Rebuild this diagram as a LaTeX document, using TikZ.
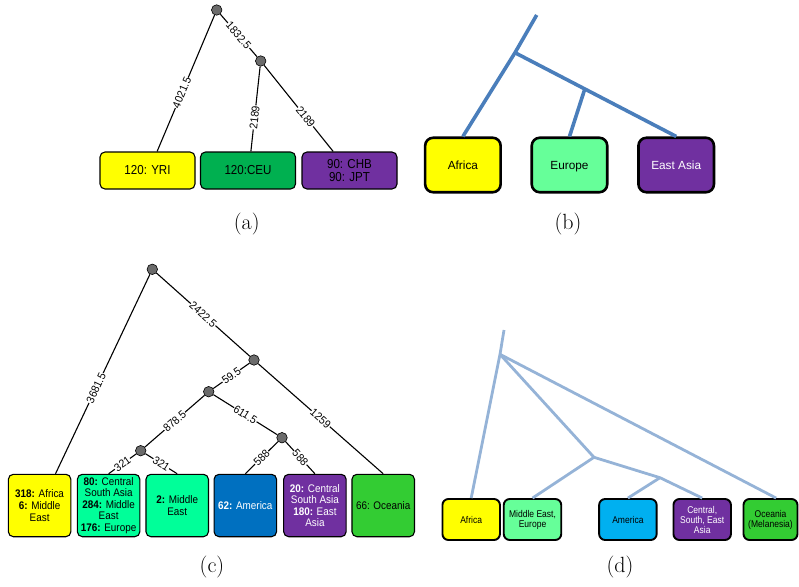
\documentclass[tikz,border=0pt]{standalone}
\usepackage{fontspec}
\newfontfamily\fontlbl[FakeStretch=0.93]{Liberation Sans}
\newfontfamily\fontA[FakeStretch=0.89]{Liberation Sans}
\newfontfamily\fontC[FakeStretch=0.9]{Liberation Sans}
\newfontfamily\fontD[FakeStretch=0.87]{Liberation Sans}
\newfontfamily\arialplain{Liberation Sans}
\usetikzlibrary{calc}

\definecolor{cyellow}{HTML}{FFFF00}
\definecolor{cgreenA}{HTML}{00B050}
\definecolor{cpurple}{HTML}{7030A0}
\definecolor{cmint}{HTML}{66FF99}
\definecolor{cspring}{HTML}{00FF99}
\definecolor{cblue}{HTML}{0070C0}
\definecolor{csky}{HTML}{00B0F0}
\definecolor{cleaf}{HTML}{33CC33}
\definecolor{treeB}{HTML}{4A7EBB}
\definecolor{treeD}{HTML}{95B3D7}
\definecolor{jointgray}{HTML}{6B6B6B}

\begin{document}
\begin{tikzpicture}[x=1pt,y=-1pt,
  joint/.style={circle, draw=black, line width=0.6pt, fill=jointgray, minimum size=10.5pt, inner sep=0pt},
  edge/.style={draw=black, line width=1.1pt},
  lbl/.style={sloped, fill=white, inner sep=0.5pt, font=\fontlbl\fontsize{11.2}{12}\selectfont},
  leafA/.style={draw=black, line width=1.1pt, rounded corners=5pt, minimum width=95pt, minimum height=37pt,
    inner sep=1pt, align=center, font=\fontA\fontsize{13}{13.5}\selectfont},
  leafB/.style={draw=black, line width=2.6pt, rounded corners=8pt, minimum width=75.5pt, minimum height=54.5pt,
    inner sep=1pt, text height=8.6pt, text depth=0pt, align=center, font=\arialplain\fontsize{11.8}{14}\selectfont},
  leafC/.style={draw=black, line width=1.1pt, rounded corners=5pt, minimum width=62.5pt, minimum height=62.4pt,
    inner sep=1pt, align=center, font=\fontC\fontsize{11}{11.6}\selectfont},
  leafD/.style={draw=black, line width=1.9pt, rounded corners=6pt, minimum width=57.5pt, minimum height=41pt,
    inner sep=1pt, align=center, font=\fontD\fontsize{9.8}{10}\selectfont},
  branchB/.style={draw=treeB, line width=3.6pt},
  branchD/.style={draw=treeD, line width=2.8pt},
  caption/.style={font=\fontsize{22}{26}\selectfont, inner sep=0pt}
]
\useasboundingbox (0,0) rectangle (799,586);

% ---------- (a) three populations, branch lengths ----------
\node[joint] (ra) at (216.7,10) {};
\node[joint] (rb) at (260.7,61) {};
\node[leafA, fill=cyellow] (yri) at (147.5,170.5) {120: YRI};
\node[leafA, fill=cgreenA] (ceu) at (248,170.5) {120:CEU};
\node[leafA, fill=cpurple] (asn) at (349.5,170.5) {90: CHB\\90: JPT};
\draw[edge] (ra) -- ($(yri.north west)!0.6!(yri.north east)$) node[lbl, pos=0.57] {4021.5};
\draw[edge] (ra) -- (rb) node[lbl, pos=0.5] {1832.5};
\draw[edge] (rb) -- ($(ceu.north west)!0.53!(ceu.north east)$) node[lbl, pos=0.6] {2189};
\draw[edge] (rb) -- ($(asn.north west)!0.33!(asn.north east)$) node[lbl, pos=0.6] {2189};
\node[caption] (capa) at (246.7,224) {(a)};

% ---------- (b) continental tree ----------
\node[leafB, fill=cyellow] (afr) at (462.9,165) {Africa};
\node[leafB, fill=cmint] (eur) at (569.5,165) {Europe};
\node[leafB, fill=cpurple, text=white] (eas) at (676.2,165) {East Asia};
\coordinate (btop) at (536.7,15);
\coordinate (bjoin) at (515,52.7);
\coordinate (bsplit) at ($(bjoin)!0.433!(eas.north)$);
\draw[branchB] (btop) -- (bjoin) -- (afr.north);
\draw[branchB] (bjoin) -- (eas.north);
\draw[branchB] (bsplit) -- (eur.north);
\node[caption] (capb) at (568,224) {(b)};

% ---------- (c) worldwide samples, branch lengths ----------
\node[joint] (c0) at (152.3,269.3) {};
\node[joint] (c1) at (254,360) {};
\node[joint] (c2) at (208.7,391.7) {};
\node[joint] (c3) at (282,437.7) {};
\node[joint] (c4) at (140.7,450.7) {};
\node[leafC, fill=cyellow] (k1) at (39.6,505.5) {\textbf{318:} Africa\\\textbf{6:} Middle\\East};
\node[leafC, fill=cspring] (k2) at (108.6,505.5) {\textbf{80:} Central\\South Asia\\\textbf{284:} Middle\\East\\\textbf{176:} Europe};
\node[leafC, fill=cspring] (k3) at (177.2,505.5) {\textbf{2:} Middle\\East};
\node[leafC, fill=cblue, text=white] (k4) at (245.3,505.5) {\textbf{62:} America};
\node[leafC, fill=cpurple, text=white] (k5) at (314.9,505.5) {\textbf{20:} Central\\South Asia\\\textbf{180:} East\\Asia};
\node[leafC, fill=cleaf] (k6) at (383.2,505.5) {66: Oceania};
\draw[edge] (c0) -- ($(k1.north west)!0.75!(k1.north east)$) node[lbl, pos=0.57] {3681.5};
\draw[edge] (c0) -- (c1) node[lbl, pos=0.5] {2422.5};
\draw[edge] (c1) -- (c2) node[lbl, pos=0.5] {59.5};
\draw[edge] (c1) -- (k6.north) node[lbl, pos=0.5] {1259};
\draw[edge] (c2) -- (c4) node[lbl, pos=0.5] {878.5};
\draw[edge] (c2) -- (c3) node[lbl, pos=0.5] {611.5};
\draw[edge] (c4) -- (k2.north) node[lbl, pos=0.5] {321};
\draw[edge] (c4) -- (k3.north) node[lbl, pos=0.5] {321};
\draw[edge] (c3) -- (k4.north) node[lbl, pos=0.5] {588};
\draw[edge] (c3) -- (k5.north) node[lbl, pos=0.5] {588};
\node[caption] (capc) at (212,567) {(c)};

% ---------- (d) regional tree ----------
\node[leafD, fill=cyellow] (dafr) at (471.2,519.5) {Africa};
\node[leafD, fill=cmint] (dme) at (532.5,519.5) {Middle East,\\Europe};
\node[leafD, fill=csky] (dam) at (627.9,519.5) {America};
\node[leafD, fill=cpurple, text=white] (dcs) at (702.2,519.5) {Central,\\South, East\\Asia};
\node[leafD, fill=cleaf, minimum width=54pt] (doc) at (770.5,519.5) {Oceania\\(Melanesia)};
\coordinate (dtop) at (504,330);
\coordinate (djoin) at (500,354.3);
\coordinate (dmid) at (594,457.3);
\coordinate (dlow) at (660,477.7);
\draw[branchD] (dtop) -- (djoin) -- (dafr.north);
\draw[branchD] (djoin) -- ($(doc.north west)!0.6!(doc.north east)$);
\draw[branchD] (djoin) -- (dmid) -- (dme.north);
\draw[branchD] (dmid) -- (dlow) -- (dcs.north);
\draw[branchD] (dlow) -- (dam.north);
\node[caption] (capd) at (620,567) {(d)};
\end{tikzpicture}
\end{document}
